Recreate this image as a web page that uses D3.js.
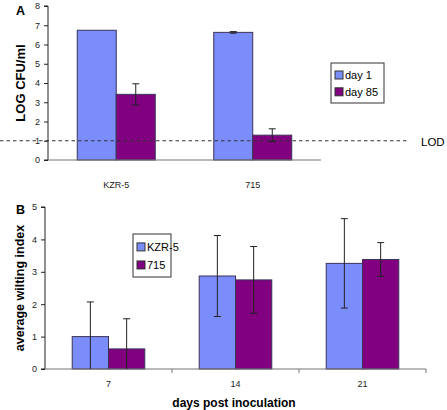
<!DOCTYPE html>
<html><head><meta charset="utf-8">
<script src="https://cdn.jsdelivr.net/npm/d3@7"></script>
<style>body{margin:0;background:#fff}svg{display:block;font-family:"Liberation Sans",Arial,sans-serif}</style>
</head><body>
<svg id="c" width="447" height="410"></svg>
<script>
// Panel A data
const catsA = ["KZR-5", "715"];
const seriesA = ["day 1", "day 85"];
const day1 = [6.74, 6.63];
const day1Err = [0, 0.04];
const day85 = [3.41, 1.29];
const day85Err = [0.55, 0.33];
const ticksA = [0,1,2,3,4,5,6,7,8];
const lod = 1;
// Panel B data
const catsB = ["7", "14", "21"];
const seriesB = ["KZR-5", "715"];
const kzr = [1.0, 2.87, 3.26];
const kzrErr = [1.07, 1.25, 1.38];
const s715 = [0.62, 2.75, 3.38];
const s715Err = [0.93, 1.03, 0.52];
const ticksB = [0,1,2,3,4,5];

const colors = ["#7b8cfb", "#800080"];
const svg = d3.select("#c");

function panel(opts){
  const {cats, series, vals, errs, ticks, x0, x1, yTop, yBot, ymax, title, letter, legend, xTickMarks} = opts;
  const x = d3.scaleBand().domain(cats).range([x0, x1]).paddingInner(0).paddingOuter(0);
  const y = d3.scaleLinear().domain([0, ymax]).range([yBot, yTop]);
  const bw = x.bandwidth()/3.5;
  const g = svg.append("g");
  // y axis
  const ya = g.append("g").attr("transform",`translate(${x0},0)`)
    .call(d3.axisLeft(y).tickValues(ticks).tickFormat(d3.format("d")).tickSize(4).tickPadding(4));
  ya.select(".domain").attr("stroke","#222").attr("d",`M-4,${y(ymax)}H0V${yBot}H-4`);
  ya.selectAll("line").attr("stroke","#222");
  ya.selectAll("text").attr("font-size",9).attr("fill","#222").attr("font-family","Liberation Sans, Arial");
  // bars
  series.forEach((s,i)=>{
    cats.forEach((c,j)=>{
      const bx = x(c) + x.bandwidth()/2 - bw + i*bw;
      g.append("rect").attr("x",bx).attr("y",y(vals[i][j])).attr("width",bw)
        .attr("height",yBot - y(vals[i][j])).attr("fill",colors[i]).attr("stroke","#3b3358").attr("stroke-width",1);
    });
  });
  // x axis
  g.append("line").attr("x1",x0).attr("x2",x1).attr("y1",yBot).attr("y2",yBot).attr("stroke","#777").attr("stroke-width",1.2);
  if (xTickMarks){
    cats.forEach(c=>{
      const tx = x(c)+x.bandwidth();
      g.append("line").attr("x1",tx).attr("x2",tx).attr("y1",yBot).attr("y2",yBot+4).attr("stroke","#777");
    });
  }
  // error bars
  series.forEach((s,i)=>{
    cats.forEach((c,j)=>{
      const e = errs[i][j]; if(!e) return;
      const cx = x(c) + x.bandwidth()/2 - bw/2 + i*bw;
      const yt = y(vals[i][j]+e), yb = y(Math.max(0, vals[i][j]-e));
      g.append("line").attr("x1",cx).attr("x2",cx).attr("y1",yt).attr("y2",yb).attr("stroke","#222");
      g.append("line").attr("x1",cx-3.5).attr("x2",cx+3.5).attr("y1",yt).attr("y2",yt).attr("stroke","#222");
      if (vals[i][j]-e > 0) g.append("line").attr("x1",cx-3.5).attr("x2",cx+3.5).attr("y1",yb).attr("y2",yb).attr("stroke","#222");
    });
  });
  // category labels
  cats.forEach(c=>{
    g.append("text").attr("x",x(c)+x.bandwidth()/2).attr("y",yBot+opts.catDy).attr("text-anchor","middle")
      .attr("font-size",9).attr("fill","#222").text(c);
  });
  // y title
  g.append("text").attr("transform",`translate(${opts.titleX},${(yTop+yBot)/2}) rotate(-90)`)
    .attr("text-anchor","middle").attr("font-size",opts.titleSize).attr("font-weight","bold").text(title);
  g.append("text").attr("x",opts.letterX).attr("y",opts.letterY).attr("font-size",12.5).attr("font-weight","bold").text(letter);
  // legend
  const L = legend;
  g.append("rect").attr("x",L.x).attr("y",L.y).attr("width",L.w).attr("height",L.h).attr("fill","#fff").attr("stroke","#333");
  series.forEach((s,i)=>{
    const ly = L.y + L.h*(i===0?0.3:0.72);
    g.append("rect").attr("x",L.x+4).attr("y",ly-4).attr("width",8).attr("height",8).attr("fill",colors[i]).attr("stroke","#333");
    g.append("text").attr("x",L.x+14).attr("y",ly+4).attr("font-size",11).text(s);
  });
  return {x,y};
}

const A = panel({cats:catsA, series:seriesA, vals:[day1,day85], errs:[day1Err,day85Err], ticks:ticksA,
  x0:48, x1:321, yTop:6, yBot:160, ymax:8, title:"LOG CFU/ml", letter:"A", letterX:16, letterY:15, titleX:25,
  titleSize:13, catDy:28, legend:{x:331, y:63, w:53, h:40}, xTickMarks:false});
// LOD line
svg.append("line").attr("x1",0).attr("x2",407).attr("y1",A.y(lod)).attr("y2",A.y(lod))
  .attr("stroke","#333").attr("stroke-dasharray","3.5,3");
svg.append("text").attr("x",421).attr("y",A.y(lod)+5).attr("font-size",11.5).text("LOD");

const B = panel({cats:catsB, series:seriesB, vals:[kzr,s715], errs:[kzrErr,s715Err], ticks:ticksB,
  x0:45, x1:426, yTop:207, yBot:369, ymax:5, title:"average wilting index", letter:"B", letterX:16, letterY:214, titleX:24,
  titleSize:12.5, catDy:18, legend:{x:133, y:234, w:38, h:43}, xTickMarks:true});
svg.append("text").attr("x",234).attr("y",407).attr("text-anchor","middle").attr("font-size",12)
  .attr("font-weight","bold").text("days post inoculation");
</script>
</body></html>
